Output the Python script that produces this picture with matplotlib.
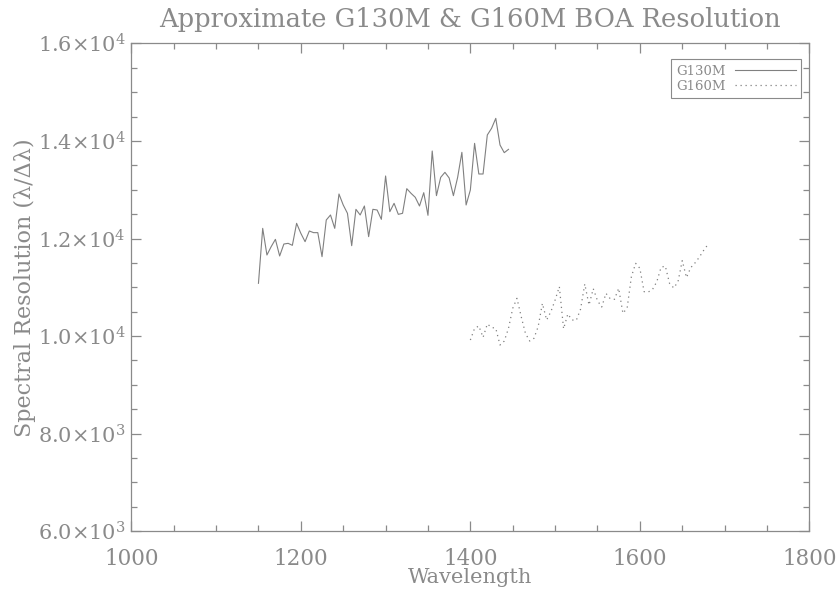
import numpy as np
import matplotlib
matplotlib.use('Agg')
import matplotlib.pyplot as plt
from matplotlib.ticker import MultipleLocator, FixedLocator, FixedFormatter

plt.rcParams['font.family'] = ['DejaVu Serif']
plt.rcParams['mathtext.fontset'] = 'dejavuserif'

GRAY = '#8a8a8a'

# wavelength grids (Angstrom), 5 A steps
wave_g130m = np.arange(1150, 1446, 5)
wave_g160m = np.arange(1400, 1681, 5)

res_g130m = [11082, 12208, 11662, 11833, 11983, 11642, 11887, 11901, 11860, 12311,
             12106, 11935, 12154, 12120, 12120, 11628, 12379, 12482, 12208, 12912,
             12687, 12516, 11853, 12598, 12482, 12666, 12038, 12598, 12584, 12393,
             13281, 12550, 12721, 12495, 12516, 13021, 12926, 12844, 12666, 12939,
             12475, 13793, 12878, 13253, 13356, 13240, 12878, 13253, 13766, 12687,
             12994, 13950, 13322, 13322, 14121, 14257, 14462, 13916, 13759, 13827]

res_g160m = [9920, 10159, 10207, 9974, 10248, 10179, 10159, 9817, 9899, 10159,
             10569, 10774, 10398, 10056, 9899, 9954, 10193, 10671, 10330, 10500,
             10739, 11013, 10150, 10453, 10330, 10323, 10550, 11068, 10637, 10972,
             10726, 10596, 10876, 10767, 10753, 10979, 10467, 10576, 11218, 11491,
             11389, 10910, 10904, 10958, 11115, 11409, 11436, 11081, 10986, 11115,
             11546, 11200, 11402, 11498, 11614, 11750, 11870]

ytick_vals = [6000, 8000, 10000, 12000, 14000, 16000]
ytick_labels = [r'6.0$\times$10$^{3}$', r'8.0$\times$10$^{3}$', r'1.0$\times$10$^{4}$',
                r'1.2$\times$10$^{4}$', r'1.4$\times$10$^{4}$', r'1.6$\times$10$^{4}$']

fig = plt.figure(figsize=(8.37, 5.90), dpi=100)
ax = fig.add_axes([0.1569, 0.0995, 0.967 - 0.1569, 0.9266 - 0.0995])

ax.plot(wave_g130m, res_g130m, color='#808080', lw=0.8, label='G130M')
ax.plot(wave_g160m, res_g160m, color='#808080', lw=0.9, linestyle=(0, (1, 3)), label='G160M')

ax.set_xlim(1000, 1800)
ax.set_ylim(6000, 16000)
ax.xaxis.set_major_locator(MultipleLocator(200))
ax.xaxis.set_minor_locator(MultipleLocator(50))
ax.yaxis.set_major_locator(FixedLocator(ytick_vals))
ax.yaxis.set_major_formatter(FixedFormatter(ytick_labels))
ax.yaxis.set_minor_locator(MultipleLocator(500))

for s in ax.spines.values():
    s.set_color(GRAY)
    s.set_linewidth(0.9)
ax.tick_params(which='both', direction='in', top=True, right=True, color=GRAY,
               labelcolor=GRAY, width=0.9)
ax.tick_params(which='major', length=7.5)
ax.tick_params(which='minor', length=4.5)
ax.tick_params(axis='x', which='major', pad=12, labelsize=15.5)
ax.tick_params(axis='y', which='major', pad=4, labelsize=15)

ax.set_title('Approximate G130M & G160M BOA Resolution', color=GRAY, fontsize=18.5, pad=12)
ax.set_xlabel('Wavelength', color=GRAY, fontsize=15)
ax.xaxis.set_label_coords(0.5, -0.075)
ax.set_ylabel('Spectral Resolution (λ/Δλ)', color=GRAY, fontsize=16, labelpad=1)

leg = ax.legend(loc='upper right', bbox_to_anchor=(0.9877, 0.967), borderaxespad=0,
                markerfirst=False, fontsize=9.5, handlelength=4.6, handletextpad=0.7,
                fancybox=False, framealpha=1, borderpad=0.4, labelspacing=0.15)
leg.get_frame().set_edgecolor(GRAY)
leg.get_frame().set_linewidth(0.8)
for t in leg.get_texts():
    t.set_color(GRAY)

fig.savefig('out.png', dpi=100)
